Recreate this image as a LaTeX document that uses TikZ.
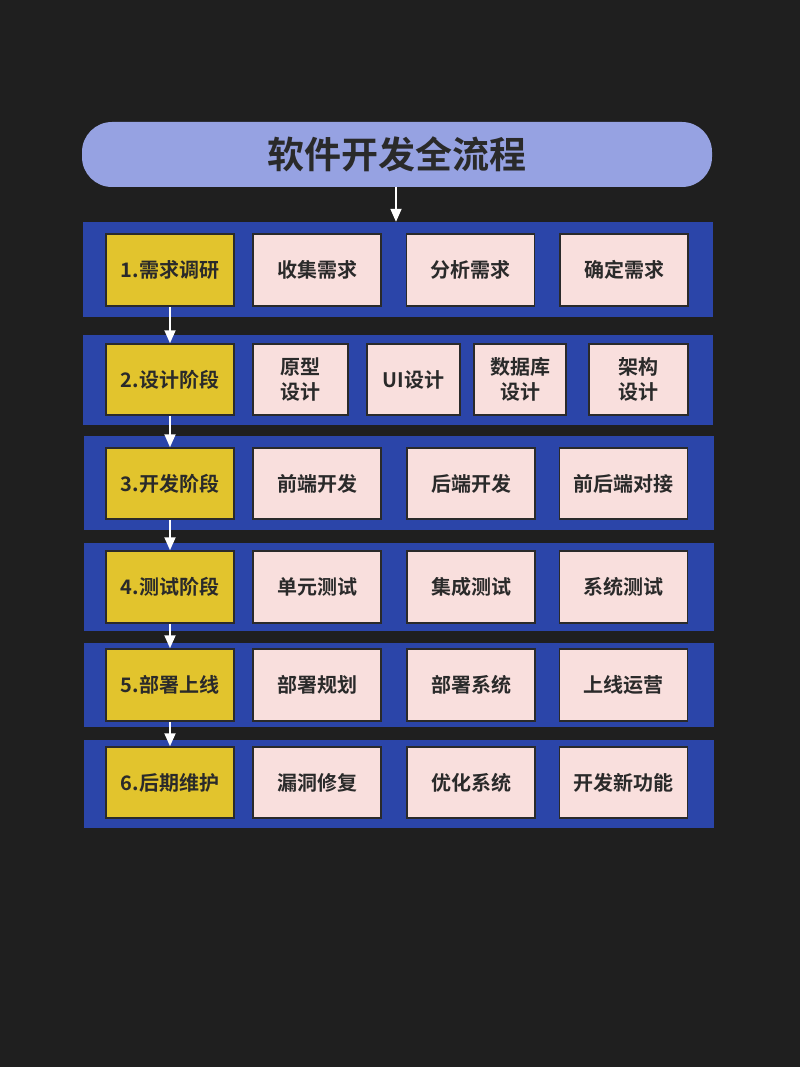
\documentclass[tikz,border=0pt]{standalone}
\usepackage{fontspec}
\setmainfont{Noto Sans CJK SC}[BoldFont={Noto Sans CJK SC Bold}]
\usetikzlibrary{arrows.meta}
\definecolor{bgc}{HTML}{1F1F1F}
\definecolor{bandc}{HTML}{2B45A9}
\definecolor{titlec}{HTML}{96A2E2}
\definecolor{yelc}{HTML}{E2C42D}
\definecolor{pinkc}{HTML}{F9DFDD}
\definecolor{inkc}{HTML}{2A2A2A}
\tikzset{
  band/.style={rectangle, fill=bandc, draw=none, minimum width=630pt, inner sep=0pt},
  ybox/.style={rectangle, fill=yelc, draw=inkc, line width=1.5pt, minimum width=128pt, minimum height=72pt, inner sep=0pt, font=\bfseries\fontsize{20}{25}\selectfont, text=inkc, align=center},
  pbox/.style={rectangle, fill=pinkc, draw=inkc, line width=1.5pt, minimum width=128pt, minimum height=72pt, inner sep=0pt, font=\bfseries\fontsize{20}{25}\selectfont, text=inkc, align=center},
  arr/.style={draw=white, line width=1.8pt, -{Triangle[width=11pt,length=13pt]}},
  titlebox/.style={rectangle, rounded corners=30pt, fill=titlec, draw=none, minimum width=630pt, minimum height=65pt, font=\bfseries\fontsize{37}{40}\selectfont, text=inkc}
}
\begin{document}
\begin{tikzpicture}[x=1pt,y=-1pt]
\fill[bgc] (0,0) rectangle (800,1067);
\useasboundingbox (0,0) rectangle (800,1067);
\node[titlebox] (title) at (397,154.5) {软件开发全流程};
% bands
\node[band, minimum height=95pt] (b1) at (397.5,269.5) {};
\node[band, minimum height=90pt] (b2) at (397.5,380) {};
\node[band, minimum height=94pt] (b3) at (398.5,483) {};
\node[band, minimum height=88pt] (b4) at (398.5,587) {};
\node[band, minimum height=84pt] (b5) at (398.5,685) {};
\node[band, minimum height=88pt] (b6) at (398.5,784) {};
% row 1
\node[ybox] (y1) at (170,270) {1.需求调研};
\node[pbox] (p11) at (317,270) {收集需求};
\node[pbox] (p12) at (470.5,270) {分析需求};
\node[pbox] (p13) at (624,270) {确定需求};
% row 2
\node[ybox, minimum height=71pt] (y2) at (170,379.5) {2.设计阶段};
\node[pbox, minimum width=95pt, minimum height=71pt] (p21) at (300.5,379.5) {原型\\设计};
\node[pbox, minimum width=93pt, minimum height=71pt] (p22) at (413.5,379.5) {UI设计};
\node[pbox, minimum width=92pt, minimum height=71pt] (p23) at (520,379.5) {数据库\\设计};
\node[pbox, minimum width=99pt, minimum height=71pt] (p24) at (638.5,379.5) {架构\\设计};
% row 3
\node[ybox, minimum height=71pt] (y3) at (170,483.5) {3.开发阶段};
\node[pbox, minimum height=71pt] (p31) at (317,483.5) {前端开发};
\node[pbox, minimum height=71pt] (p32) at (471,483.5) {后端开发};
\node[pbox, minimum height=71pt] (p33) at (623.5,483.5) {前后端对接};
% row 4
\node[ybox] (y4) at (170,587) {4.测试阶段};
\node[pbox] (p41) at (317,587) {单元测试};
\node[pbox] (p42) at (471,587) {集成测试};
\node[pbox] (p43) at (623.5,587) {系统测试};
% row 5
\node[ybox] (y5) at (170,685) {5.部署上线};
\node[pbox] (p51) at (317,685) {部署规划};
\node[pbox] (p52) at (471,685) {部署系统};
\node[pbox] (p53) at (623.5,685) {上线运营};
% row 6
\node[ybox, minimum height=71pt] (y6) at (170,782.5) {6.后期维护};
\node[pbox, minimum height=71pt] (p61) at (317,782.5) {漏洞修复};
\node[pbox, minimum height=71pt] (p62) at (471,782.5) {优化系统};
\node[pbox, minimum height=71pt] (p63) at (623.5,782.5) {开发新功能};
% arrows
\draw[arr] ([xshift=-1pt]title.south) -- ([xshift=-1pt]title.south |- b1.north);
\draw[arr] (y1.south) -- (y2.north);
\draw[arr] (y2.south) -- (y3.north);
\draw[arr] (y3.south) -- (y4.north);
\draw[arr] (y4.south) -- (y5.north);
\draw[arr] (y5.south) -- (y6.north);
\end{tikzpicture}
\end{document}
